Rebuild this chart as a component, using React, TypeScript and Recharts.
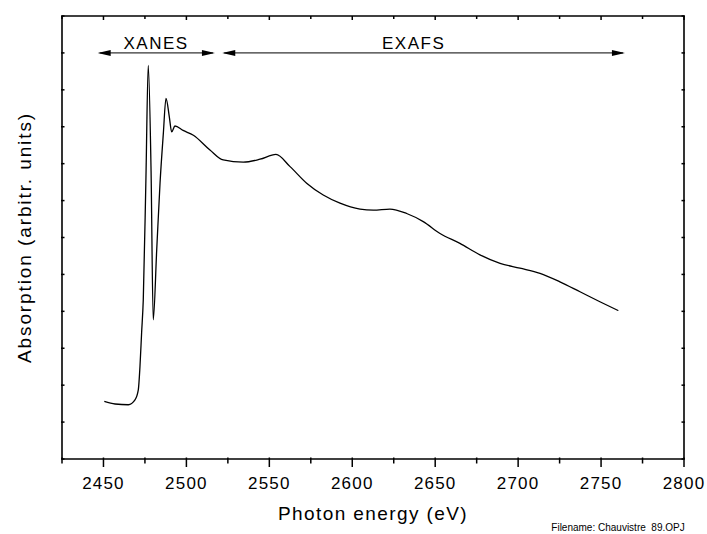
import { LineChart, Line, XAxis, YAxis, ReferenceLine, ReferenceDot } from "recharts";

const FONT = '"Liberation Sans", Arial, sans-serif';

// photon energy (eV) and absorption (arbitrary units)
const energy = [
  2450.5, 2457.0, 2465.0, 2469.0, 2471.0, 2472.0, 2473.0, 2474.0, 2475.6, 2477.0,
  2478.7, 2480.0, 2482.1, 2484.1, 2486.1, 2487.7, 2489.7, 2491.1, 2493.1, 2498.0,
  2504.2, 2514.2, 2522.2, 2534.3, 2544.4, 2554.0, 2562.5, 2572.5, 2582.5, 2592.6,
  2604.7, 2612.7, 2622.7, 2632.8, 2642.8, 2652.9, 2664.9, 2677.0, 2689.1, 2701.1,
  2713.2, 2725.2, 2737.3, 2749.3, 2760.4,
];
const absorption = [
  1.56, 1.49, 1.47, 1.6, 1.87, 2.5, 3.42, 4.31, 7.6, 10.66,
  7.8, 3.77, 5.66, 7.47, 8.82, 9.77, 9.27, 8.86, 9.02, 8.9,
  8.77, 8.37, 8.1, 8.04, 8.12, 8.25, 7.92, 7.47, 7.15, 6.93,
  6.77, 6.74, 6.77, 6.65, 6.43, 6.11, 5.84, 5.53, 5.3, 5.17,
  5.03, 4.8, 4.53, 4.26, 4.02,
];

const xTicks = [2425, 2450, 2475, 2500, 2525, 2550, 2575, 2600, 2625, 2650, 2675, 2700, 2725, 2750, 2775, 2800];
const yTicks = [0, 1, 2, 3, 4, 5, 6, 7, 8, 9, 10, 11, 12];

// the XANES / EXAFS range arrows
const regionNames = ["XANES", "EXAFS"];
const regionStart = [2446.5, 2521.6];
const regionEnd = [2517.2, 2764.4];
const regionLabelX = [2481.7, 2637];
const arrowLevel = 11;

const data = energy.map((e, i) => ({ e, a: absorption[i] }));

function BottomTick(props: any) {
  const { x, y, payload } = props;
  const major = payload.value % 50 === 0;
  return (
    <g>
      <line x1={x} x2={x} y1={y - 1.5} y2={y + (major ? 8 : 4.5)} stroke="#000" strokeWidth={1.5} />
      {major && (
        <text x={x} y={y + 30} textAnchor="middle" fontSize={17} letterSpacing={1.2} fontFamily={FONT} fill="#000">
          {payload.value}
        </text>
      )}
    </g>
  );
}

function TopTick(props: any) {
  const { x, y, payload } = props;
  const major = payload.value % 50 === 0;
  return <line x1={x} x2={x} y1={y} y2={y + (major ? 4 : 3)} stroke="#000" strokeWidth={1.5} />;
}

function LeftTick(props: any) {
  const { x, y } = props;
  return <line x1={x - 1} x2={x + 2.5} y1={y} y2={y} stroke="#000" strokeWidth={1.5} />;
}

function RightTick(props: any) {
  const { x, y } = props;
  return <line x1={x - 2.5} x2={x + 1} y1={y} y2={y} stroke="#000" strokeWidth={1.5} />;
}

function Arrow(props: any) {
  const { x1, y1, x2 } = props;
  const len = 13;
  const half = 3;
  return (
    <g>
      <line x1={x1 + 2} x2={x2 - 2} y1={y1} y2={y1} stroke="#000" strokeWidth={1} />
      <polygon points={`${x1},${y1} ${x1 + len},${y1 - half} ${x1 + len},${y1 + half}`} fill="#000" />
      <polygon points={`${x2},${y1} ${x2 - len},${y1 - half} ${x2 - len},${y1 + half}`} fill="#000" />
    </g>
  );
}

function XTitle(props: any) {
  const vb = props.viewBox;
  return (
    <g fontFamily={FONT} fill="#000">
      <text x={vb.x + vb.width / 2} y={vb.y + 61} textAnchor="middle" fontSize={19} letterSpacing={1.4}>
        Photon energy (eV)
      </text>
      <text x={vb.x + vb.width - 66} y={vb.y + 72} textAnchor="middle" fontSize={10} style={{ whiteSpace: "pre" }}>
        {"Filename: Chauvistre  89.OPJ"}
      </text>
    </g>
  );
}

function YTitle(props: any) {
  const vb = props.viewBox;
  const cx = vb.x - 21;
  const cy = vb.y + vb.height / 2;
  return (
    <text
      x={cx}
      y={cy}
      transform={`rotate(-90 ${cx} ${cy})`}
      textAnchor="middle"
      fontSize={19}
      letterSpacing={1.9}
      fontFamily={FONT}
      fill="#000"
    >
      Absorption (arbitr. units)
    </text>
  );
}

export default function App() {
  const axisLine = { stroke: "#000", strokeWidth: 1.6 };
  return (
    <div style={{ width: 707, height: 534, fontFamily: FONT }}>
      <style>{"body { margin: 0; }"}</style>
      <LineChart width={707} height={534} data={data} margin={{ top: 15, right: 13, bottom: 15, left: 52 }}>
        <XAxis
          xAxisId="b"
          dataKey="e"
          type="number"
          domain={[2425, 2800]}
          ticks={xTicks}
          interval={0}
          height={60}
          axisLine={axisLine}
          tickLine={false}
          tickSize={0}
          tickMargin={0}
          tick={<BottomTick />}
          allowDataOverflow
          label={{ content: (p: any) => <XTitle {...p} /> }}
        />
        <XAxis
          xAxisId="t"
          orientation="top"
          dataKey="e"
          type="number"
          domain={[2425, 2800]}
          ticks={xTicks}
          interval={0}
          height={1}
          axisLine={axisLine}
          tickLine={false}
          tickSize={0}
          tickMargin={0}
          tick={<TopTick />}
          allowDataOverflow
        />
        <YAxis
          yAxisId="l"
          type="number"
          domain={[0, 12]}
          ticks={yTicks}
          interval={0}
          width={10}
          axisLine={axisLine}
          tickLine={false}
          tickSize={0}
          tickMargin={0}
          tick={<LeftTick />}
          allowDataOverflow
          label={{ content: (p: any) => <YTitle {...p} /> }}
        />
        <YAxis
          yAxisId="r"
          orientation="right"
          type="number"
          domain={[0, 12]}
          ticks={yTicks}
          interval={0}
          width={10}
          axisLine={axisLine}
          tickLine={false}
          tickSize={0}
          tickMargin={0}
          tick={<RightTick />}
          allowDataOverflow
        />
        <Line
          xAxisId="b"
          yAxisId="l"
          type="monotone"
          dataKey="a"
          stroke="#000"
          strokeWidth={1.3}
          dot={false}
          isAnimationActive={false}
        />
        {regionNames.map((name, i) => (
          <ReferenceLine
            key={`arrow-${name}`}
            xAxisId="b"
            yAxisId="l"
            segment={[
              { x: regionStart[i], y: arrowLevel },
              { x: regionEnd[i], y: arrowLevel },
            ]}
            shape={(p: any) => <Arrow {...p} />}
            ifOverflow="visible"
          />
        ))}
        {regionNames.map((name, i) => (
          <ReferenceDot
            key={`label-${name}`}
            xAxisId="b"
            yAxisId="l"
            x={regionLabelX[i]}
            y={arrowLevel}
            r={0}
            shape={(p: any) => (
              <text x={p.cx} y={p.cy - 4} textAnchor="middle" fontSize={17} letterSpacing={1.5} fontFamily={FONT} fill="#000">
                {name}
              </text>
            )}
          />
        ))}
      </LineChart>
    </div>
  );
}
